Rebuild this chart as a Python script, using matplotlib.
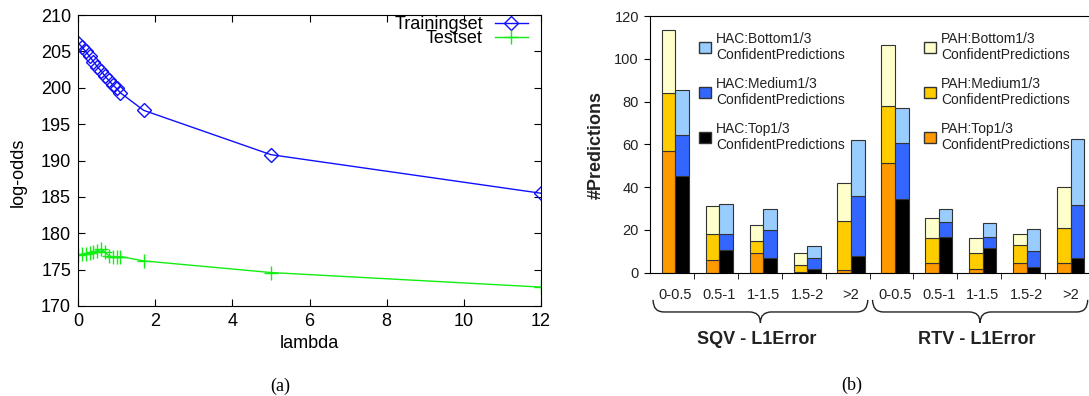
import matplotlib.pyplot as plt
from matplotlib.patches import Patch, PathPatch
from matplotlib.path import Path
from matplotlib.transforms import blended_transform_factory

# (a) log-odds vs lambda
lam = [0, 0.1, 0.2, 0.3, 0.4, 0.5, 0.6, 0.7, 0.8, 0.9, 1.0, 1.1, 1.7, 5, 12]
train = [206.2, 205.6, 205.0, 204.3, 203.6, 202.9, 202.3, 201.6, 201.0,
         200.4, 199.9, 199.3, 196.9, 190.8, 185.5]
test = [177.0, 177.1, 177.2, 177.3, 177.4, 177.6, 177.8, 177.4, 176.9,
        176.7, 176.7, 176.8, 176.2, 174.6, 172.6]

# (b) stacked predictions
groups = ['0-0.5', '0.5-1', '1-1.5', '1.5-2', '>2'] * 2
pah_top = [57, 6, 9, 0.3, 1.2, 51.5, 4.7, 1.8, 4.7, 4.7]
pah_med = [27, 12, 6, 3.4, 22.8, 26.5, 11.3, 7.2, 8.1, 16.3]
pah_bot = [29.5, 13, 7.5, 5.3, 18, 28.5, 9.5, 7, 5.2, 19]
hac_top = [45, 10.4, 7, 1.8, 8, 34.5, 16.5, 11.5, 2.8, 7]
hac_med = [19.5, 7.9, 13, 5.2, 28, 26, 7, 5, 7.4, 24.5]
hac_bot = [21, 13.7, 10, 5.5, 26, 16.5, 6.5, 6.5, 10.3, 31.2]
sections = ['SQV - L1Error', 'RTV - L1Error']

W, H = 1089, 396
plt.rcParams['font.family'] = ['Liberation Sans', 'DejaVu Sans']
fig = plt.figure(figsize=(W / 100, H / 100), dpi=100)

# ---- left panel ----
axL = fig.add_axes([78 / W, 1 - 306 / H, (541 - 78) / W, (306 - 15) / H])
axL.plot(lam, train, color='#1010ff', lw=1, marker='D', ms=7,
         mfc='none', mew=1, label='Trainingset')
axL.plot(lam, test, color='#11ee11', lw=1, marker='+', ms=10,
         mew=1, label='Testset')
axL.set_xlim(0, 12)
axL.set_ylim(170, 210)
axL.set_xticks(range(0, 13, 2))
axL.set_yticks(range(170, 211, 5))
axL.tick_params(direction='in', top=True, right=True, length=5,
                labelsize=13, pad=5)
axL.legend(loc='upper right', bbox_to_anchor=(528 / W, 1 - 16 / H),
           bbox_transform=fig.transFigure, frameon=False, markerfirst=False,
           fontsize=13, borderpad=0, borderaxespad=0, labelspacing=-0.15,
           handlelength=1.85, handletextpad=0.65)
fig.text(18 / W, 1 - 172 / H, 'log-odds', rotation=90, ha='center',
         va='center', fontsize=13)
fig.text(309 / W, 1 - 343 / H, 'lambda', ha='center', va='center', fontsize=13)

# ---- right panel ----
x0 = 650
step = 44.8
left = -0.58
axR = fig.add_axes([x0 / W, 1 - 272.7 / H, (W - x0) / W, (272.7 - 16) / H])
xs = list(range(len(groups)))
bw = 0.31
ec = '#333333'
xp = [x - bw / 2 for x in xs]
xh = [x + bw / 2 for x in xs]

b1 = [a + b for a, b in zip(pah_top, pah_med)]
axR.bar(xp, pah_top, bw, color='#ff9900', edgecolor=ec, lw=0.8)
axR.bar(xp, pah_med, bw, bottom=pah_top, color='#ffcc00', edgecolor=ec, lw=0.8)
axR.bar(xp, pah_bot, bw, bottom=b1, color='#ffffcc', edgecolor=ec, lw=0.8)

b2 = [a + b for a, b in zip(hac_top, hac_med)]
axR.bar(xh, hac_top, bw, color='#000000', edgecolor=ec, lw=0.8)
axR.bar(xh, hac_med, bw, bottom=hac_top, color='#3366ff', edgecolor=ec, lw=0.8)
axR.bar(xh, hac_bot, bw, bottom=b2, color='#99ccff', edgecolor=ec, lw=0.8)

axR.set_xlim(left, left + (W - x0) / step)
axR.set_ylim(0, 120)
axR.set_yticks(range(0, 121, 20))
axR.spines['right'].set_visible(False)
axR.set_xticks(xs)
axR.set_xticklabels(groups)
axR.set_xticks([x + 0.42 for x in xs], minor=True)
axR.tick_params(axis='x', which='major', length=0, labelsize=10.5, pad=11,
                labelcolor='#222222')
axR.tick_params(axis='x', which='minor', length=4, direction='out')
axR.tick_params(axis='y', length=4, direction='out', labelsize=10.5, pad=4,
                labelcolor='#222222')
fig.text(596 / W, 1 - 145 / H, '#Predictions', rotation=90, ha='center',
         va='center', fontsize=13, fontweight='bold', color='#222222')

# braces and section labels
tr = blended_transform_factory(axR.transData, axR.transAxes)
ya, yb, yc = -0.106, -0.153, -0.195
d = 0.25
for xa, xb, name in [(-0.51, 4.38, sections[0]), (4.49, 9.39, sections[1])]:
    xm = (xa + xb) / 2
    verts = [(xa, ya), (xa, yb), (xa + d, yb),
             (xm - d, yb), (xm, yb), (xm, yc),
             (xm, yb), (xm + d, yb),
             (xb - d, yb), (xb, yb), (xb, ya)]
    codes = [Path.MOVETO, Path.CURVE3, Path.CURVE3,
             Path.LINETO, Path.CURVE3, Path.CURVE3,
             Path.CURVE3, Path.CURVE3,
             Path.LINETO, Path.CURVE3, Path.CURVE3]
    axR.add_patch(PathPatch(Path(verts, codes), transform=tr, fill=False,
                            lw=1, edgecolor='#222222', clip_on=False))
    axR.text(xm - 0.08, -0.26, name, transform=tr, ha='center', va='center',
             fontsize=13, fontweight='bold', color='#222222')

# legends
hac_h = [Patch(facecolor='#99ccff', edgecolor=ec),
         Patch(facecolor='#3366ff', edgecolor=ec),
         Patch(facecolor='#000000', edgecolor=ec)]
hac_l = ['HAC:Bottom1/3\nConfidentPredictions',
         'HAC:Medium1/3\nConfidentPredictions',
         'HAC:Top1/3\nConfidentPredictions']
pah_h = [Patch(facecolor='#ffffcc', edgecolor=ec),
         Patch(facecolor='#ffcc00', edgecolor=ec),
         Patch(facecolor='#ff9900', edgecolor=ec)]
pah_l = ['PAH:Bottom1/3\nConfidentPredictions',
         'PAH:Medium1/3\nConfidentPredictions',
         'PAH:Top1/3\nConfidentPredictions']
kw = dict(loc='upper left', bbox_transform=fig.transFigure, frameon=False,
          fontsize=10, borderpad=0, borderaxespad=0, labelspacing=1.05,
          handlelength=0.85, handleheight=0.85, handletextpad=0.4,
          labelcolor='#222222')
lg1 = axR.legend(hac_h, hac_l, bbox_to_anchor=(699 / W, 1 - 32 / H), **kw)
axR.add_artist(lg1)
axR.legend(pah_h, pah_l, bbox_to_anchor=(924 / W, 1 - 32 / H), **kw)

# captions
fig.text(280 / W, 1 - 386 / H, '(a)', ha='center', va='center',
         fontsize=13, family='Liberation Serif')
fig.text(852 / W, 1 - 385 / H, '(b)', ha='center', va='center',
         fontsize=13, family='Liberation Serif')

fig.savefig('out.png', dpi=100)
